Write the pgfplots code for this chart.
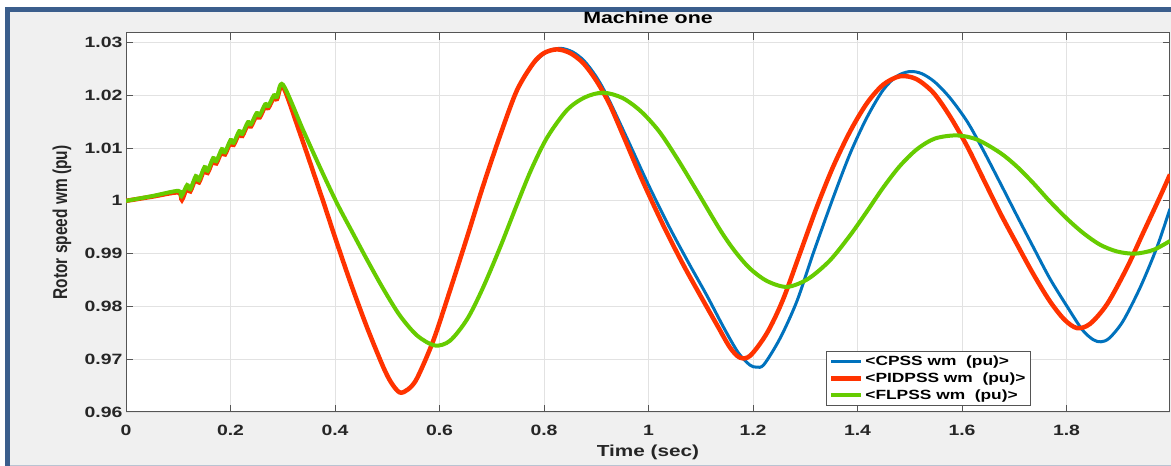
\documentclass[border=0pt]{standalone}
\usepackage{fontspec}
\setmainfont{Liberation Sans}[FakeStretch=1.3]
\newfontfamily\plainsans{Liberation Sans}
\usepackage{graphicx}
\usepackage{pgfplots}
\pgfplotsset{compat=1.18}

\definecolor{cpss}{RGB}{0,114,189}
\definecolor{pidpss}{RGB}{255,51,0}
\definecolor{flpss}{RGB}{102,204,0}
\definecolor{framec}{RGB}{59,94,140}
\definecolor{panel}{RGB}{240,240,240}
\definecolor{axisgray}{RGB}{85,85,85}
\definecolor{gridgray}{RGB}{226,226,226}
\definecolor{ticktext}{RGB}{38,38,38}

\begin{document}
\begin{tikzpicture}
\useasboundingbox (0,0) rectangle (1171bp,466bp);
\fill[white] (0,0) rectangle (1171bp,466bp);
\fill[panel] (10bp,0) rectangle (1171bp,454bp);
\fill[framec] (5bp,0) rectangle (10bp,459bp);
\fill[framec] (5bp,454bp) rectangle (1171bp,459bp);
\draw[line width=1.5bp, color={rgb,255:red,185;green,195;blue,210}] (10bp,0.75bp) -- (1171bp,0.75bp);

\begin{axis}[
    at={(126bp,54bp)}, anchor=south west,
    scale only axis, width=1044bp, height=379bp,
    xmin=0, xmax=1.998,
    ymin=0.96, ymax=1.0318,
    xtick={0,0.2,0.4,0.6,0.8,1,1.2,1.4,1.6,1.8},
    ytick={0.96,0.97,0.98,0.99,1,1.01,1.02,1.03},
    axis background/.style={fill=white},
    grid=major,
    major grid style={gridgray, line width=0.8bp},
    axis line style={axisgray, line width=1bp},
    tick style={axisgray, line width=1bp},
    major tick length=7bp, tick align=inside,
    xtick pos=both, ytick pos=both,
    tick label style={font=\fontsize{15}{17}\selectfont\bfseries, text=ticktext,
        /pgf/number format/assume math mode=true},
    yticklabel style={/pgf/number format/fixed, /pgf/number format/precision=2},
    xticklabel style={/pgf/number format/fixed, yshift=-10bp},
    every axis title shift=0pt,
    title={Machine one},
    title style={at={(axis description cs:0.5,1.0396)}, anchor=center,
        font=\fontsize{16.5}{18}\selectfont\bfseries},
    xlabel={Time (sec)},
    xlabel style={at={(axis description cs:0.5,-0.1055)}, anchor=center,
        font=\fontsize{16}{18}\selectfont\bfseries, text=ticktext},
    ylabel={\scalebox{1}[1.3]{\plainsans\bfseries Rotor speed wm (pu)}},
    ylabel style={at={(axis description cs:-0.0613,0.5)}, anchor=center,
        font=\fontsize{15.5}{18}\selectfont, text=ticktext},
    legend style={at={(rel axis cs:0.6705,0.016)}, anchor=south west,
        draw=axisgray, fill=white, line width=0.8bp,
        font=\fontsize{13.4}{15}\selectfont\bfseries, text=black,
        cells={anchor=west}, inner sep=2.5bp, row sep=2bp},
    legend image code/.code={\draw[#1] (0bp,0bp) -- (30bp,0bp);},
]

% CPSS
\addplot[cpss, line width=3bp, smooth, tension=0.5] coordinates {
(0,1.0000) (0.05,1.0008) (0.100,1.0016) (0.107,1.0004)
(0.117,1.0026) (0.123,1.0018) (0.1336,1.0043) (0.1396,1.0035)
(0.1502,1.0060) (0.1562,1.0053) (0.1668,1.0077) (0.1728,1.0071)
(0.1834,1.0094) (0.1894,1.0088) (0.2000,1.0111) (0.2060,1.0106)
(0.2166,1.0128) (0.2226,1.0123) (0.2332,1.0145) (0.2392,1.0141)
(0.2498,1.0162) (0.2558,1.0158) (0.2664,1.0179) (0.2724,1.0176)
(0.2830,1.0196) (0.2890,1.0193) (0.3005,1.0216)
(0.333,1.0128) (0.375,1.0006) (0.400,0.9931) (0.429,0.9847)
(0.461,0.9761) (0.492,0.9686) (0.508,0.9655) (0.524,0.9637)
(0.540,0.9643) (0.557,0.9664) (0.588,0.9735) (0.620,0.9830)
(0.653,0.9932) (0.683,1.0027) (0.716,1.0124) (0.748,1.0209)
(0.779,1.0259) (0.805,1.0282) (0.831,1.0289) (0.855,1.0282)
(0.877,1.0265) (0.900,1.0235) (0.921,1.0198) (0.960,1.0116)
(1.000,1.0030) (1.040,0.9950) (1.077,0.9882) (1.112,0.9820)
(1.145,0.9758) (1.172,0.9712) (1.194,0.9689) (1.207,0.9685)
(1.221,0.9690) (1.252,0.9740) (1.284,0.9810) (1.315,0.9900)
(1.353,1.0005) (1.386,1.0090) (1.418,1.0158) (1.449,1.0210)
(1.475,1.0236) (1.500,1.0245) (1.523,1.0241) (1.548,1.0225)
(1.577,1.0195) (1.610,1.0150) (1.640,1.0097) (1.673,1.0034)
(1.705,0.9972) (1.736,0.9913) (1.768,0.9853) (1.801,0.9800)
(1.830,0.9756) (1.851,0.9737) (1.866,0.9733) (1.882,0.9740)
(1.908,0.9772) (1.941,0.9836) (1.973,0.9912) (1.998,0.9985)
};
\addlegendentry{<CPSS wm~~(pu)>}

% PIDPSS
\addplot[pidpss, line width=4.5bp, smooth, tension=0.5] coordinates {
(0,1.0000) (0.05,1.0008) (0.100,1.0016) (0.107,1.0002)
(0.117,1.0026) (0.123,1.0018) (0.1336,1.0043) (0.1396,1.0035)
(0.1502,1.0060) (0.1562,1.0053) (0.1668,1.0077) (0.1728,1.0071)
(0.1834,1.0094) (0.1894,1.0088) (0.2000,1.0111) (0.2060,1.0106)
(0.2166,1.0128) (0.2226,1.0123) (0.2332,1.0145) (0.2392,1.0141)
(0.2498,1.0162) (0.2558,1.0158) (0.2664,1.0179) (0.2724,1.0176)
(0.2830,1.0196) (0.2890,1.0193) (0.3005,1.0216)
(0.333,1.0128) (0.375,1.0006) (0.400,0.9931) (0.429,0.9847)
(0.461,0.9761) (0.492,0.9686) (0.508,0.9655) (0.524,0.9637)
(0.540,0.9643) (0.557,0.9664) (0.588,0.9735) (0.620,0.9830)
(0.653,0.9932) (0.683,1.0027) (0.716,1.0124) (0.748,1.0209)
(0.779,1.0260) (0.800,1.0280) (0.825,1.0287) (0.850,1.0280)
(0.875,1.0261) (0.900,1.0228) (0.925,1.0184) (0.951,1.0125)
(0.989,1.0037) (1.030,0.9950) (1.066,0.9880) (1.099,0.9821)
(1.131,0.9765) (1.156,0.9722) (1.175,0.9703) (1.195,0.9707)
(1.227,0.9750) (1.257,0.9812) (1.290,0.9901) (1.322,0.9988)
(1.353,1.0064) (1.386,1.0132) (1.418,1.0185) (1.449,1.0220)
(1.481,1.0236) (1.512,1.0231) (1.545,1.0205) (1.577,1.0160)
(1.610,1.0103) (1.640,1.0043) (1.673,0.9977) (1.705,0.9918)
(1.736,0.9862) (1.768,0.9810) (1.796,0.9775) (1.820,0.9759)
(1.845,0.9767) (1.878,0.9805) (1.916,0.9874) (1.946,0.9938)
(1.979,1.0008) (1.998,1.0050)
};
\addlegendentry{<PIDPSS wm~~(pu)>}

% FLPSS
\addplot[flpss, line width=4bp, smooth, tension=0.5] coordinates {
(0,1.0000) (0.05,1.0009) (0.100,1.0019) (0.106,1.0009)
(0.117,1.0030) (0.123,1.0022) (0.1336,1.0047) (0.1396,1.0039)
(0.1502,1.0064) (0.1562,1.0057) (0.1668,1.0081) (0.1728,1.0075)
(0.1834,1.0098) (0.1894,1.0092) (0.2000,1.0115) (0.2060,1.0110)
(0.2166,1.0132) (0.2226,1.0127) (0.2332,1.0149) (0.2392,1.0145)
(0.2498,1.0166) (0.2558,1.0162) (0.2664,1.0183) (0.2724,1.0180)
(0.2830,1.0200) (0.2890,1.0197) (0.3005,1.0220)
(0.339,1.0134) (0.371,1.0064) (0.404,0.9995) (0.434,0.9939)
(0.461,0.9889) (0.492,0.9834) (0.524,0.9783) (0.557,0.9745)
(0.591,0.9726) (0.620,0.9735) (0.653,0.9776) (0.683,0.9835)
(0.716,0.9912) (0.745,0.9985) (0.775,1.0058) (0.806,1.0120)
(0.844,1.0172) (0.878,1.0196) (0.913,1.0205) (0.950,1.0195)
(0.985,1.0170) (1.020,1.0132) (1.055,1.0080) (1.093,1.0018)
(1.137,0.9945) (1.165,0.9905) (1.194,0.9872) (1.227,0.9848)
(1.265,0.9837) (1.305,0.9852) (1.347,0.9887) (1.386,0.9935)
(1.418,0.9980) (1.449,1.0025) (1.481,1.0066) (1.514,1.0098)
(1.548,1.0118) (1.590,1.0124) (1.629,1.0116) (1.673,1.0091)
(1.705,1.0065) (1.736,1.0034) (1.768,0.9999) (1.801,0.9966)
(1.832,0.9939) (1.864,0.9917) (1.897,0.9904) (1.931,0.9900)
(1.966,0.9907) (1.998,0.9924)
};
\addlegendentry{<FLPSS wm~~(pu)>}

\end{axis}
\end{tikzpicture}
\end{document}
